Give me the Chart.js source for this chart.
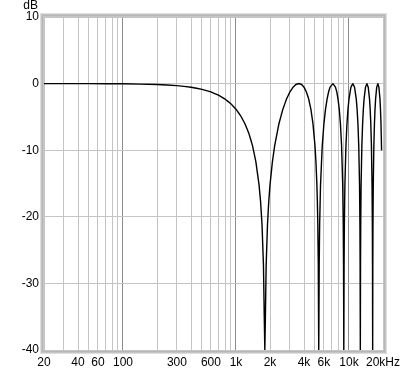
<!DOCTYPE html>
<html>
<head>
<meta charset="utf-8">
<script src="https://cdn.jsdelivr.net/npm/chart.js@4/dist/chart.umd.min.js"></script>
<style>
  html, body { margin: 0; padding: 0; background: #fff; }
  #wrap { width: 406px; height: 372px; }
</style>
</head>
<body>
<div id="wrap"><canvas id="chart" width="406" height="372"></canvas></div>
<script>
// frequency response (Hz, dB)
const freqHz = [
    20, 50, 100, 200, 300, 400, 500, 600, 700, 800, 900, 1000, 1100, 1200, 1300, 1400, 1500, 1600, 1650, 1700, 1750, 1780, 1800,
    1820, 1850, 1900, 1950, 2000, 2100, 2200, 2400, 2600, 2800, 3000, 3200, 3400, 3600, 3800, 4000, 4200, 4400, 4600, 4800, 5000, 5100, 5200, 5250, 5300, 5350, 5380, 5400,
    5420, 5450, 5500, 5600, 5800, 6000, 6200, 6400, 6600, 6800, 7200, 7600, 7800, 8000, 8200, 8400, 8600, 8800, 8900, 8950, 8980, 9000,
    9020, 9050, 9100, 9200, 9400, 9600, 9800, 10000, 10400, 10800, 11200, 11600, 11800, 12000, 12200, 12400, 12500, 12550, 12580, 12600,
    12620, 12650, 12700, 12800, 13000, 13200, 13400, 13600, 14000, 14400, 14800, 15200, 15400, 15600, 15800, 16000, 16100, 16150, 16180, 16200,
    16220, 16250, 16300, 16400, 16600, 16800, 17000, 17200, 17600, 18000, 18400, 18800, 19000, 19200, 19430
];
const levelDb = [
    0, -0.01, -0.03, -0.13, -0.3, -0.54, -0.86, -1.25, -1.73, -2.32, -3.01, -3.84, -4.83, -6.02, -7.48, -9.32, -11.74, -15.21, -17.69, -21.19, -27.21, -35.16, -40,
    -35.16, -27.21, -21.19, -17.69, -15.21, -11.74, -9.32, -6.02, -3.84, -2.32, -1.25, -0.54, -0.13, 0, -0.13, -0.54, -1.25, -2.32, -3.84, -6.02, -9.32, -11.74, -15.21, -17.69, -21.19, -27.21, -35.16, -40,
    -35.16, -27.21, -21.19, -15.21, -9.32, -6.02, -3.84, -2.32, -1.25, -0.54, 0, -0.54, -1.25, -2.32, -3.84, -6.02, -9.32, -15.21, -21.19, -27.21, -35.16, -40,
    -35.16, -27.21, -21.19, -15.21, -9.32, -6.02, -3.84, -2.32, -0.54, 0, -0.54, -2.32, -3.84, -6.02, -9.32, -15.21, -21.19, -27.21, -35.16, -40,
    -35.16, -27.21, -21.19, -15.21, -9.32, -6.02, -3.84, -2.32, -0.54, 0, -0.54, -2.32, -3.84, -6.02, -9.32, -15.21, -21.19, -27.21, -35.16, -40,
    -35.16, -27.21, -21.19, -15.21, -9.32, -6.02, -3.84, -2.32, -0.54, 0, -0.54, -2.32, -3.84, -6.02, -10
];

// grid lines on the frequency axis, and which ones carry a label
const xGridHz = [
    20, 30, 40, 50, 60, 70, 80, 90,
    100, 200, 300, 400, 500, 600, 700, 800, 900,
    1000, 2000, 3000, 4000, 5000, 6000, 7000, 8000, 9000,
    10000, 20000
];
const xLabels = { 20: "20", 40: "40", 60: "60", 100: "100", 300: "300", 600: "600",
    1000: "1k", 2000: "2k", 4000: "4k", 6000: "6k", 10000: "10k", 20000: "20kHz" };
const decadeHz = [100, 1000, 10000];
const yTicksDb = [10, 0, -10, -20, -30, -40];

const FONT = { family: "'Liberation Sans', Arial, sans-serif", size: 12 };

const points = freqHz.map((f, i) => ({ x: f, y: levelDb[i] }));

// grey bevelled frame round the plot plus the "dB" unit
const framePlugin = {
    id: "frame",
    afterDraw(c) {
        const ctx = c.ctx;
        const a = c.chartArea;
        const shades = ["#c6c6c6", "#b6b6b6", "#c4c4c4", "#dedede"];
        ctx.save();
        ctx.lineWidth = 1;
        shades.forEach((col, i) => {
            const o = i + 0.5;
            ctx.strokeStyle = col;
            ctx.strokeRect(a.left - o, a.top - o, a.right - a.left + 2 * o, a.bottom - a.top + 2 * o);
        });
        ctx.fillStyle = "#000";
        ctx.font = FONT.size + "px " + FONT.family;
        ctx.textAlign = "right";
        ctx.textBaseline = "middle";
        ctx.fillText("dB", 38, 6);
        ctx.restore();
    }
};

const chart = new Chart(document.getElementById("chart"), {
    type: "line",
    data: {
        datasets: [{
            data: points,
            borderColor: "#000",
            borderWidth: 1.4,
            pointRadius: 0,
            tension: 0.0001,
            fill: false
        }]
    },
    options: {
        responsive: false,
        animation: false,
        layout: { padding: { top: 17, right: 23, left: 0, bottom: 0 } },
        plugins: { legend: { display: false }, tooltip: { enabled: false } },
        scales: {
            x: {
                type: "logarithmic",
                min: 20,
                max: 20000,
                afterBuildTicks: (s) => { s.ticks = xGridHz.map(v => ({ value: v })); },
                afterFit: (s) => { s.height = 22; },
                border: { display: false },
                grid: {
                    drawTicks: false,
                    color: (ctx) => decadeHz.includes(ctx.tick && ctx.tick.value) ? "#8a8a8a" : "#c4c4c4"
                },
                ticks: {
                    autoSkip: false,
                    maxRotation: 0,
                    padding: 5,
                    color: "#000",
                    font: FONT,
                    callback: (v) => xLabels[v] || ""
                }
            },
            y: {
                min: -40,
                max: 10,
                afterBuildTicks: (s) => { s.ticks = yTicksDb.map(v => ({ value: v })); },
                afterFit: (s) => { s.width = 44; },
                border: { display: false },
                grid: { drawTicks: false, color: "#c4c4c4" },
                ticks: {
                    padding: 5,
                    color: "#000",
                    font: FONT,
                    callback: (v) => String(v)
                }
            }
        }
    },
    plugins: [framePlugin]
});
</script>
</body>
</html>
